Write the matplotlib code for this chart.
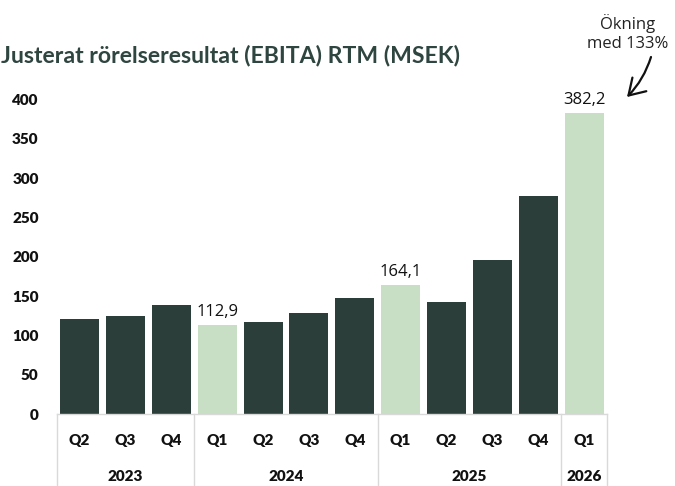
import numpy as np
import matplotlib
matplotlib.use("Agg")
import matplotlib.pyplot as plt
from matplotlib.patches import FancyArrowPatch
from matplotlib.transforms import blended_transform_factory

# data
quarters = ["Q2", "Q3", "Q4", "Q1", "Q2", "Q3", "Q4", "Q1", "Q2", "Q3", "Q4", "Q1"]
years = ["2023", "2024", "2025", "2026"]
year_counts = [3, 4, 4, 1]
values = [121, 125, 139, 112.9, 117, 129, 148, 164.1, 143, 196, 277, 382.2]
yticks = [0, 50, 100, 150, 200, 250, 300, 350, 400]

dark = "#2b3e39"
light = "#c8dfc5"
grid_col = "#d9d9d9"

W, H = 675, 486
fig = plt.figure(figsize=(W / 100, H / 100), dpi=100)

# axes placed in pixel terms
x0, x1 = 56.7, 607.0
y0, ytop = 414.3, 99.3
ax = fig.add_axes([x0 / W, 1 - y0 / H, (x1 - x0) / W, (y0 - ytop) / H])

x = np.arange(len(values))
colors = [light if q == "Q1" else dark for q in quarters]
ax.bar(x, values, width=0.85, color=colors, zorder=2)

ax.set_xlim(-0.5, len(values) - 0.5)
ax.set_ylim(0, 400)
ax.set_yticks(yticks)
ax.set_yticklabels([str(t) for t in yticks], fontfamily="Lato", fontweight="heavy",
                   fontsize=11, color="#111111")
ax.tick_params(axis="y", length=0, pad=13)
ax.set_xticks([])

for s in ["top", "right", "left"]:
    ax.spines[s].set_visible(False)
ax.spines["bottom"].set_color(grid_col)
ax.spines["bottom"].set_linewidth(1)

# value labels on the Q1 bars
for i, v in enumerate(values):
    if quarters[i] == "Q1":
        ax.text(i, v + 7, f"{v:.1f}".replace(".", ","), ha="center", va="bottom",
                fontfamily="Open Sans", fontsize=12, color="#111111")

# two level category axis
tr = blended_transform_factory(ax.transData, fig.transFigure)
axis_y = 1 - y0 / H
for i, q in enumerate(quarters):
    ax.text(i, 1 - 440 / H, q, transform=tr, ha="center", va="center",
            fontfamily="Lato", fontweight="heavy", fontsize=11, color="#111111")

start = 0
bounds = [-0.5]
for yr, n in zip(years, year_counts):
    mid = start + (n - 1) / 2
    ax.text(mid, 1 - 476 / H, yr, transform=tr, ha="center", va="center",
            fontfamily="Lato", fontweight="heavy", fontsize=11, color="#111111")
    start += n
    bounds.append(start - 0.5)

for b in bounds:
    ax.plot([b, b], [axis_y, 0], transform=tr, color=grid_col, lw=1, clip_on=False)

# title
fig.text(0.002, 1 - 56 / H, "Justerat rörelseresultat (EBITA) RTM (MSEK)",
         ha="left", va="center", fontfamily="Lato", fontweight="bold",
         fontsize=16.6, color="#2f4540")

# annotation with arrow
fig.text(628 / W, 1 - 33 / H, "Ökning\nmed 133%", ha="center", va="center",
         fontfamily="Open Sans", fontsize=12, color="#222222", linespacing=1.2)
fig.patches.append(FancyArrowPatch(
    (651 / W, 1 - 57 / H), (627 / W, 1 - 97 / H), transform=fig.transFigure,
    arrowstyle="->,head_length=0.8,head_width=0.5", connectionstyle="arc3,rad=-0.12",
    mutation_scale=14, shrinkA=0, shrinkB=0, color="#111111", lw=1.6))

fig.savefig("out.png", dpi=100)
